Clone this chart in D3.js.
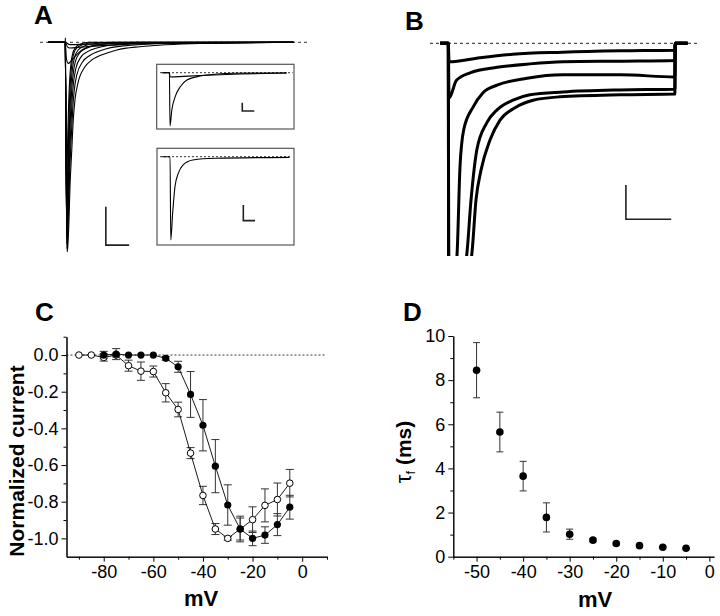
<html>
<head>
<script src="https://d3js.org/d3.v7.min.js"></script>
<style>
  body {margin: 0; background: white;}
  text {font-family: "Liberation Sans", Arial, sans-serif; fill: black;}
  .lbl {font-weight: bold;}
</style>
</head>
<body>
<svg id="fig" width="720" height="616"></svg>
<script>
// ---- panel A: current traces (time ms, current nA) ----
var traceA = [
  [[-3.6,0],[0,0],[0.05,0.12],[0.4,-5.47],[0.55,-5.35],[0.82,-4.64],[1.03,-3.78],[1.39,-2.89],[1.74,-2.03],[2.1,-1.51],[2.75,-1.06],[4.25,-0.64],[5.75,-0.46],[9,-0.28],[11.1,-0.2],[16,-0.115],[29,-0.03],[49,0]],
  [[-3.6,0],[0,0],[0.38,-5.38],[0.52,-5.1],[0.76,-4.3],[0.97,-3.4],[1.3,-2.5],[1.62,-1.75],[1.95,-1.25],[2.5,-0.85],[3.8,-0.5],[5.2,-0.35],[8,-0.2],[12,-0.1],[22,-0.03],[49,0]],
  [[-3.6,0],[0,0],[0.36,-5.25],[0.5,-4.9],[0.72,-4.0],[0.92,-3.1],[1.22,-2.2],[1.5,-1.5],[1.8,-1.05],[2.3,-0.68],[3.4,-0.38],[4.7,-0.25],[7,-0.14],[11,-0.06],[18,-0.01],[49,0]],
  [[-3.6,0],[0,0],[0.35,-5.1],[0.48,-4.7],[0.68,-3.7],[0.87,-2.8],[1.15,-1.9],[1.4,-1.25],[1.7,-0.85],[2.15,-0.52],[3.1,-0.28],[4.3,-0.17],[6.5,-0.08],[10,-0.03],[16,0],[49,0]],
  [[-3.6,0],[0,0],[0.34,-4.9],[0.46,-4.4],[0.64,-3.4],[0.82,-2.5],[1.08,-1.6],[1.32,-1.02],[1.6,-0.66],[2,-0.4],[2.8,-0.2],[4,-0.1],[6,-0.04],[10,0],[49,0]],
  [[-3.6,0],[0,0],[0.33,-4.6],[0.44,-4.0],[0.6,-3.0],[0.77,-2.15],[1,-1.3],[1.25,-0.8],[1.5,-0.5],[1.9,-0.28],[2.6,-0.14],[3.8,-0.06],[6,-0.01],[49,0]],
  [[-3.6,0],[0,0],[0.32,-3.9],[0.43,-3.2],[0.58,-2.3],[0.75,-1.6],[0.98,-0.95],[1.25,-0.55],[1.6,-0.3],[2.2,-0.14],[3.2,-0.05],[5,0],[49,0]],
  [[-3.6,0],[0,0],[0.3,-0.45],[0.7,-0.55],[1.5,-0.45],[2.5,-0.32],[3.6,-0.2],[5,-0.12],[6.8,-0.07],[12,-0.01],[49,0]],
  [[-3.6,0],[0,0],[0.5,-0.12],[1,-0.15],[3,-0.13],[6,-0.1],[12,-0.06],[20,-0.03],[35,-0.01],[49,0]],
  [[-3.6,0],[0,0],[1,-0.06],[5,-0.05],[15,-0.03],[30,-0.01],[49,0]]
];
var barA = [8.73, -5.29, 5, 1];   // corner t, corner I, dt, dI

var inset1 = [
  [[-3,0],[0,0],[0.25,-6.42],[1,-4.49],[2.4,-2.89],[4.5,-1.69],[7.25,-0.88],[12.8,-0.4],[19.75,-0.16],[26.5,-0.07],[48.6,-0.03]],
  [[-3,0],[0,0],[0.3,-0.52],[2,-0.5],[12.8,-0.34],[29.5,-0.16],[48.6,-0.04]]
];
var bar1 = [30.2, -4.61, 5, 1];

var inset2 = [
  [[-3.5,0],[0,0],[0.3,-5.3],[1.1,-3.59],[2.1,-1.91],[3.5,-1.06],[5.5,-0.53],[9.7,-0.21],[19.4,-0.1],[51,-0.04]]
];
var bar2 = [31.3, -4.07, 5, 1];

// ---- panel B: traces (time ms, current pA) ----
var traceB = [
  [[-9,0],[0,0],[0.8,-27],[35,-21],[71,-16],[126,-13],[190,-11],[250,-10],[250.5,0],[264,0]],
  [[-9,0],[0,0],[0.8,-80],[9,-54],[24,-43],[54,-35],[90,-30],[127,-27],[190,-26],[250,-25],[250.5,0],[264,0]],
  [[-9,0],[0,0],[0.5,-400],[9.6,-309],[12.9,-180],[17,-126],[27.3,-93],[38.3,-72],[53.8,-61],[86.9,-51],[126.6,-46],[190,-46],[250,-49],[250.5,0],[264,0]],
  [[-9,0],[0,0],[0.5,-420],[20.3,-309],[25.1,-228],[31.4,-156],[42.4,-116],[53.8,-97],[71.4,-83],[90.2,-75],[126.6,-71],[190,-68],[250,-67],[250.5,0],[264,0]],
  [[-9,0],[0,0],[0.5,-440],[25.8,-309],[30.6,-228],[36.1,-185],[46,-141],[57.1,-112],[73.6,-94],[93.5,-83],[123.3,-78],[190,-75],[250,-74],[250.5,0],[264,0]]
];
var barB = [196, -256.6, 50, 50];

// ---- panel C: normalized I-V ----
var ivVolt = [-90,-85,-80,-75,-70,-65,-60,-55,-50,-45,-40,-35,-30,-25,-20,-15,-10,-5];
var ivOpen = [0.0,0.0,-0.013,0.0,-0.058,-0.088,-0.09,-0.206,-0.297,-0.535,-0.766,-0.949,-1.0,-0.949,-0.898,-0.82,-0.788,-0.699];
var ivOpenErr = [0,0,0.02,0.01,0.03,0.05,0.03,0.05,0.04,0.03,0.05,0.03,0.01,0.06,0.07,0.09,0.09,0.075];
var ivFilledVolt = [-80,-75,-70,-65,-60,-55,-50,-45,-40,-35,-30,-25,-20,-15,-10,-5];
var ivFilled = [0.0,0.005,0.0,0.0,0.0,-0.018,-0.064,-0.215,-0.383,-0.606,-0.818,-0.949,-1.0,-0.982,-0.925,-0.83];
var ivFilledErr = [0.02,0.03,0,0,0,0.01,0.03,0.125,0.14,0.145,0.11,0.07,0.04,0.045,0.06,0.065];
var cYMajor = [0,-0.2,-0.4,-0.6,-0.8,-1.0];
var cYMinor = [0.1,-0.1,-0.3,-0.5,-0.7,-0.9];
var cXMajor = [-80,-60,-40,-20,0];
var cXMinor = [-90,-70,-50,-30,-10,10];

// ---- panel D: tau_f ----
var tauVolt = [-50,-45,-40,-35,-30,-25,-20,-15,-10,-5];
var tauVal = [8.45,5.65,3.65,1.78,1.02,0.75,0.6,0.5,0.43,0.38];
var tauErr = [1.25,0.9,0.67,0.66,0.23,0.08,0.07,0.05,0.04,0.03];
var dYMajor = [0,2,4,6,8,10];
var dYMinor = [1,3,5,7,9];
var dXMajor = [-50,-40,-30,-20,-10,0];
var dXMinor = [-55,-45,-35,-25,-15,-5];

var svg = d3.select("#fig");

function panelLetter(t, x, y) {
  svg.append("text").attr("class","lbl").attr("x",x).attr("y",y)
    .style("font-size","26px").text(t);
}

function drawTraces(g, data, x, y, w) {
  var line = d3.line().x(d => x(d[0])).y(d => y(d[1])).curve(d3.curveMonotoneX);
  g.selectAll(null).data(data).enter().append("path")
    .attr("d", line).attr("fill","none").attr("stroke","black")
    .attr("stroke-width", w).attr("stroke-linejoin","round");
}

function baseLine(g, x, y, t0, t1, dash, col) {
  g.append("line").attr("x1",x(t0)).attr("x2",x(t1)).attr("y1",y(0)).attr("y2",y(0))
    .attr("stroke",col).attr("stroke-width",1).attr("stroke-dasharray",dash);
}

function scaleBar(g, x, y, b) {
  g.append("path")
    .attr("d","M"+x(b[0])+","+y(b[1]+b[3])+"L"+x(b[0])+","+y(b[1])+"L"+x(b[0]+b[2])+","+y(b[1]))
    .attr("fill","none").attr("stroke","#222").attr("stroke-width",1.6);
}

// ---------- A ----------
panelLetter("A", 34, 24);
var gA = svg.append("g");
var xA = d3.scaleLinear().domain([-5.4, 51.9]).range([40, 307]);
var yA = d3.scaleLinear().domain([0, -5.47]).range([42.3, 252]);
baseLine(gA, xA, yA, -5.4, 51.9, "3,3", "#333");
drawTraces(gA, traceA, xA, yA, 1.1);
scaleBar(gA, xA, yA, barA);

function inset(data, bar, box, xd, yd) {
  var g = svg.append("g");
  g.append("rect").attr("x",box[0]).attr("y",box[1]).attr("width",box[2]-box[0]).attr("height",box[3]-box[1])
    .attr("fill","white").attr("stroke","#555").attr("stroke-width",1.2);
  var x = d3.scaleLinear().domain(xd[0]).range(xd[1]);
  var y = d3.scaleLinear().domain(yd[0]).range(yd[1]);
  baseLine(g, x, y, xd[0][0], xd[0][1], "2,2", "#333");
  drawTraces(g, data, x, y, 1.1);
  scaleBar(g, x, y, bar);
}
inset(inset1, bar1, [156.7,64.3,294,129], [[-3.9,51.1],[160,292.7]], [[0,-6.42],[72.7,126]]);
inset(inset2, bar2, [157,148.3,294,245], [[-4.3,52.1],[160,292]], [[0,-5.3],[156.7,240]]);

// ---------- B ----------
panelLetter("B", 405, 30);
svg.append("clipPath").attr("id","clipB").append("rect")
  .attr("x",420).attr("y",0).attr("width",290).attr("height",256);
var gB = svg.append("g").attr("clip-path","url(#clipB)");
var xB = d3.scaleLinear().domain([-20.2, 275.9]).range([430, 698.3]);
var yB = d3.scaleLinear().domain([0, -309]).range([43.3, 255.2]);
baseLine(gB, xB, yB, -20.2, 275.9, "3,3", "#222");
drawTraces(gB, traceB, xB, yB, 3);
scaleBar(gB, xB, yB, barB);

// ---------- axes helper ----------
function axes(g, x, y, xMaj, xMin, yMaj, yMin, fy) {
  var bottom = y.range()[0], left = x.range()[0];
  g.append("g").attr("transform","translate(0,"+bottom+")")
    .call(d3.axisBottom(x).tickValues(xMin).tickSize(3).tickSizeOuter(0).tickFormat(""));
  g.append("g").attr("transform","translate(0,"+bottom+")")
    .call(d3.axisBottom(x).tickValues(xMaj).tickSize(5).tickSizeOuter(0).tickPadding(4).tickFormat(d => String(d)));
  g.append("g").attr("transform","translate("+left+",0)")
    .call(d3.axisLeft(y).tickValues(yMin).tickSize(3).tickSizeOuter(0).tickFormat(""));
  g.append("g").attr("transform","translate("+left+",0)")
    .call(d3.axisLeft(y).tickValues(yMaj).tickSize(5).tickSizeOuter(0).tickPadding(3).tickFormat(fy));
  g.selectAll(".tick text").style("font-family","'Liberation Sans', Arial, sans-serif").style("font-size","18px").attr("fill","black");
  g.selectAll(".domain, .tick line").attr("stroke","black");
}

function errBars(g, xs, ys, es, x, y, cap) {
  xs.forEach(function(v, i) {
    if (!es[i]) return;
    var cx = x(v), y1 = y(ys[i] + es[i]), y2 = y(ys[i] - es[i]);
    g.append("path").attr("d","M"+cx+","+y1+"V"+y2+"M"+(cx-cap)+","+y1+"H"+(cx+cap)+"M"+(cx-cap)+","+y2+"H"+(cx+cap))
      .attr("stroke","#333").attr("stroke-width",1).attr("fill","none");
  });
}

// ---------- C ----------
panelLetter("C", 35, 321);
var gC = svg.append("g");
var xC = d3.scaleLinear().domain([-95, 10]).range([66.5, 327]);
var yC = d3.scaleLinear().domain([-1.1, 0.1]).range([556.7, 336.7]);
axes(gC, xC, yC, cXMajor, cXMinor, cYMajor, cYMinor, d => d.toFixed(1));
gC.append("line").attr("x1",xC(-95)).attr("x2",xC(9)).attr("y1",yC(0)).attr("y2",yC(0))
  .attr("stroke","black").attr("stroke-width",0.8).attr("stroke-dasharray","2,2");
errBars(gC, ivVolt, ivOpen, ivOpenErr, xC, yC, 4);
errBars(gC, ivFilledVolt, ivFilled, ivFilledErr, xC, yC, 4);
var lineC = d3.line().x(d => xC(d[0])).y(d => yC(d[1]));
var openPts = ivVolt.map((v,i) => [v, ivOpen[i]]);
var fillPts = ivFilledVolt.map((v,i) => [v, ivFilled[i]]);
gC.append("path").attr("d", lineC(openPts)).attr("fill","none").attr("stroke","black").attr("stroke-width",0.9);
gC.append("path").attr("d", lineC(fillPts)).attr("fill","none").attr("stroke","black").attr("stroke-width",0.9);
gC.selectAll(".op").data(openPts).enter().append("circle")
  .attr("cx", d => xC(d[0])).attr("cy", d => yC(d[1])).attr("r",3.3)
  .attr("fill","white").attr("stroke","black").attr("stroke-width",1);
gC.selectAll(".fp").data(fillPts).enter().append("circle")
  .attr("cx", d => xC(d[0])).attr("cy", d => yC(d[1])).attr("r",3.6).attr("fill","black");
gC.append("text").attr("class","lbl").attr("text-anchor","middle")
  .attr("transform","translate(24,461) rotate(-90)").style("font-size","21px").text("Normalized current");
gC.append("text").attr("class","lbl").attr("text-anchor","middle")
  .attr("x",201).attr("y",606).style("font-size","22px").text("mV");

// ---------- D ----------
panelLetter("D", 403, 321);
var gD = svg.append("g");
var xD = d3.scaleLinear().domain([-55, 1]).range([453.3, 714]);
var yD = d3.scaleLinear().domain([0, 10]).range([556.7, 336]);
axes(gD, xD, yD, dXMajor, dXMinor, dYMajor, dYMinor, d => String(d));
errBars(gD, tauVolt, tauVal, tauErr, xD, yD, 3.5);
gD.selectAll(".tp").data(tauVolt).enter().append("circle")
  .attr("cx", d => xD(d)).attr("cy", (d,i) => yD(tauVal[i])).attr("r",3.8).attr("fill","black");
var yl = gD.append("text").attr("text-anchor","middle")
  .attr("transform","translate(411,452) rotate(-90)");
yl.append("tspan").style("font-size","22px").text("τ");
yl.append("tspan").style("font-size","13px").attr("dy",4).text("f");
yl.append("tspan").attr("class","lbl").style("font-size","21px").attr("dy",-4).text(" (ms)");
gD.append("text").attr("class","lbl").attr("text-anchor","middle")
  .attr("x",595).attr("y",607).style("font-size","22px").text("mV");
</script>
</body>
</html>
